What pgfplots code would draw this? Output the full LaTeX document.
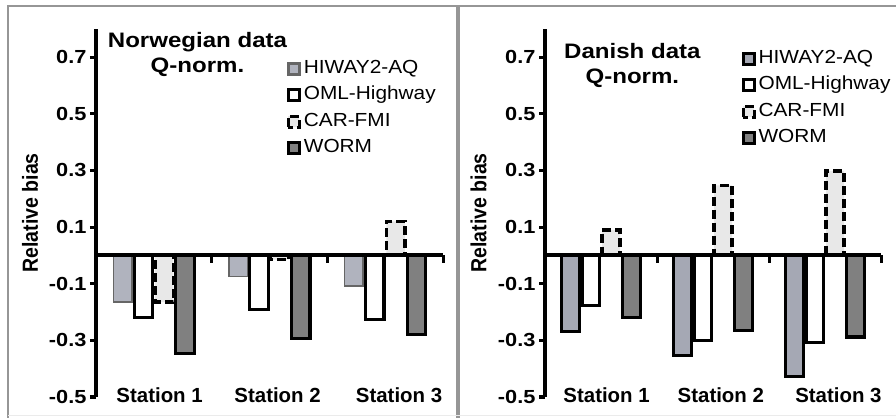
\documentclass[border=0pt]{standalone}
\usepackage{fontspec}
\setmainfont{Liberation Sans}
\newfontfamily\sfont{Liberation Sans}[FakeStretch=1.15]
\newfontfamily\lfont{Liberation Sans}[FakeStretch=1.1]
\usepackage{pgfplots}
\pgfplotsset{compat=1.18}
\definecolor{hiway}{RGB}{176,179,190}
\definecolor{hiwayd}{RGB}{165,168,180}
\definecolor{carfill}{RGB}{232,232,232}
\definecolor{worm}{RGB}{128,128,128}
\definecolor{framec}{RGB}{150,150,150}
\pgfplotsset{
 panel/.style={
  scale only axis, height=368.3bp,
  xmin=0.5, xmax=3.5, ymin=-0.5, ymax=0.8,
  axis y line*=left, axis x line*=bottom,
  x axis line style={draw=none},
  y axis line style={line width=4.2bp, -},
  xtick={1.05,2.07,3.12}, xticklabels={Station 1,Station 2,Station 3},
  xtick style={draw=none},
  xticklabel style={font=\bfseries\fontsize{20.5}{20.5}\selectfont, anchor=center, yshift=8bp},
  ytick={-0.5,-0.3,-0.1,0.1,0.3,0.5,0.7},
  yticklabels={-0.5,-0.3,-0.1,0.1,0.3,0.5,0.7},
  yticklabel style={font=\sfont\bfseries\fontsize{19}{19}\selectfont},
  ytick style={line width=3bp, black},
  tick align=outside, major tick length=6bp,
  clip=false,
  legend cell align=left,
  legend image code/.code={\draw[##1, /tikz/.cd, line width=2.8bp] (0.5bp,-5.5bp) rectangle (11.5bp,5.5bp);},
  legend style={draw=none, fill=none, anchor=north west, inner sep=0pt,
    font=\lfont\fontsize{19}{19}\selectfont, row sep=9.5bp,
    nodes={inner sep=0pt, text height=13bp, text depth=4bp},
    /tikz/every odd column/.style={column sep=3bp}},
 },
 hw/.style={ybar, bar width=0.16, bar shift=-0.27},
 oml/.style={ybar, bar width=0.16, bar shift=-0.09, fill=white, draw=black, line width=3.2bp},
 car/.style={ybar, bar width=0.16, bar shift=0.09, fill=carfill, draw=black, line width=3.4bp, dash pattern=on 9bp off 4bp},
 worm/.style={ybar, bar width=0.16, bar shift=0.27, fill=worm, draw=black, line width=3.2bp},
}
\begin{document}
\begin{tikzpicture}
\path[use as bounding box] (0,0) rectangle (896bp,418bp);
\draw[framec, line width=2.8bp] (8bp,0bp) -- (8bp,412bp) -- (896bp,412bp);
\draw[framec, line width=4.5bp] (458bp,0bp) -- (458bp,412bp);
\draw[black!8, line width=1bp] (8bp,2.5bp) -- (896bp,2.5bp);

% ---------- Norwegian ----------
\begin{axis}[panel, at={(96bp,21bp)}, anchor=south west, width=347bp,
  legend style={at={(rel axis cs:0.55,0.915)}}]
\addplot[hw, fill=hiway, draw=black!60, line width=1.5bp] coordinates {(1,-0.165) (2,-0.074) (3,-0.109)};
\addplot[oml] coordinates {(1,-0.218) (2,-0.192) (3,-0.226)};
\addplot[car] coordinates {(1,-0.165) (2,-0.015) (3,0.12)};
\addplot[worm] coordinates {(1,-0.347) (2,-0.294) (3,-0.279)};
\legend{HIWAY2-AQ,OML-Highway,CAR-FMI,WORM}
\draw[line width=4.2bp] (axis cs:0.5,0) -- (axis cs:3.5,0);
\draw[line width=3bp] (axis cs:1.5,0) -- ++(0bp,-8bp);
\draw[line width=3bp] (axis cs:2.5,0) -- ++(0bp,-8bp);
\draw[line width=3bp] (axis cs:3.5,0) -- ++(0bp,-8bp);
\node[anchor=base, font=\sfont\bfseries\fontsize{21}{21}\selectfont] at (axis description cs:0.2925,0.9503) {Norwegian data};
\node[anchor=base, font=\sfont\bfseries\fontsize{21}{21}\selectfont] at (axis description cs:0.2925,0.8824) {Q-norm.};
\node[rotate=90, font=\bfseries\fontsize{19.6}{19.6}\selectfont] at (axis description cs:-0.19,0.5) {\scalebox{1}[1.12]{Relative bias}};
\end{axis}

% ---------- Danish ----------
\begin{axis}[panel, at={(545bp,21bp)}, anchor=south west, width=336bp,
  legend style={at={(rel axis cs:0.585,0.942)}}]
\addplot[hw, fill=hiwayd, draw=black, line width=3bp] coordinates {(1,-0.27) (2,-0.353) (3,-0.427)};
\addplot[oml] coordinates {(1,-0.176) (2,-0.30) (3,-0.309)};
\addplot[car] coordinates {(1,0.09) (2,0.247) (3,0.298)};
\addplot[worm] coordinates {(1,-0.22) (2,-0.265) (3,-0.288)};
\legend{HIWAY2-AQ,OML-Highway,CAR-FMI,WORM}
\draw[line width=4.2bp] (axis cs:0.5,0) -- (axis cs:3.5,0);
\draw[line width=3bp] (axis cs:1.5,0) -- ++(0bp,-8bp);
\draw[line width=3bp] (axis cs:2.5,0) -- ++(0bp,-8bp);
\draw[line width=3bp] (axis cs:3.5,0) -- ++(0bp,-8bp);
\node[anchor=base, font=\sfont\bfseries\fontsize{21}{21}\selectfont] at (axis description cs:0.26,0.9196) {Danish data};
\node[anchor=base, font=\sfont\bfseries\fontsize{21}{21}\selectfont] at (axis description cs:0.26,0.8517) {Q-norm.};
\node[rotate=90, font=\bfseries\fontsize{19.6}{19.6}\selectfont] at (axis description cs:-0.198,0.5) {\scalebox{1}[1.12]{Relative bias}};
\end{axis}
\end{tikzpicture}
\end{document}
